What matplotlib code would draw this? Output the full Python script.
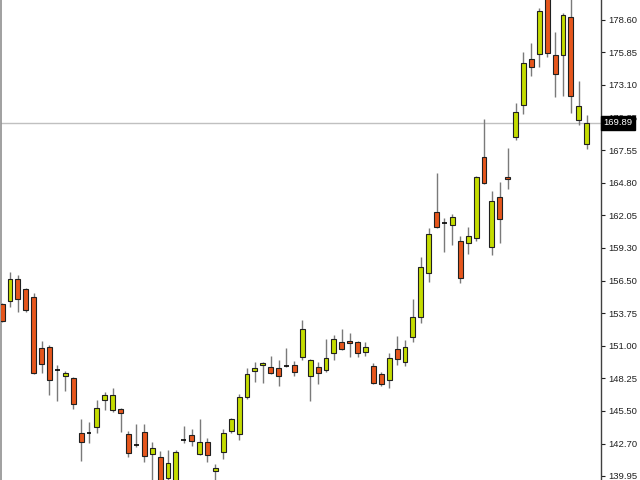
import numpy as np
import matplotlib
matplotlib.use('Agg')
import matplotlib.pyplot as plt
import matplotlib.transforms as mtransforms

# daily candles, oldest first (first one is cut by the left edge)
opens = [154.53, 154.78, 156.65, 155.80, 155.12, 150.80, 150.88, 148.94, 148.42, 148.26,
         143.59, 143.59, 144.10, 146.39, 145.54, 145.63, 143.51, 142.58, 143.68, 141.81,
         141.56, 139.78, 139.10, 143.00, 143.42, 141.81, 142.83, 140.37, 141.98, 143.76,
         143.51, 146.65, 148.85, 149.36, 149.19, 149.11, 149.27, 149.36, 150.04, 148.42,
         149.19, 148.94, 150.38, 151.31, 151.39, 151.31, 150.46, 149.27, 148.59, 148.09,
         150.71, 149.61, 151.73, 153.43, 157.15, 162.33, 161.39, 161.22, 159.87, 159.70,
         160.12, 166.99, 159.36, 163.60, 165.29, 168.68, 171.40, 175.30, 175.72, 180.72,
         175.63, 175.63, 178.85, 170.12, 168.09]
highs = [154.61, 157.24, 156.99, 155.89, 155.46, 151.39, 151.05, 149.36, 148.85, 148.34,
         144.78, 144.53, 146.39, 147.07, 147.41, 145.71, 143.76, 144.36, 144.36, 142.83,
         142.07, 142.15, 142.15, 144.19, 143.93, 144.78, 143.17, 140.97, 143.93, 144.87,
         146.90, 149.11, 149.61, 149.58, 150.12, 149.78, 150.80, 149.70, 153.17, 149.87,
         149.61, 151.56, 151.90, 152.41, 152.07, 151.39, 151.31, 149.53, 148.77, 150.38,
         151.82, 151.48, 154.95, 158.51, 160.97, 165.63, 161.82, 162.16, 160.29, 161.05,
         165.38, 170.21, 164.11, 164.87, 167.75, 171.56, 175.89, 176.65, 179.62, 181.14,
         177.58, 179.19, 180.97, 173.43, 170.55]
lows = [153.00, 154.27, 153.85, 153.85, 148.59, 148.68, 146.82, 146.31, 147.15, 145.63,
        141.22, 142.75, 143.59, 145.54, 145.37, 143.68, 141.56, 142.41, 141.13, 139.19,
        138.76, 138.76, 138.76, 142.75, 142.49, 141.73, 141.13, 139.19, 141.39, 143.59,
        143.00, 146.48, 147.92, 147.83, 148.59, 147.58, 149.19, 148.42, 149.78, 146.31,
        147.75, 148.77, 149.78, 150.63, 150.04, 150.04, 150.12, 147.75, 147.58, 147.41,
        149.36, 149.27, 151.31, 152.92, 156.39, 160.97, 158.94, 159.53, 156.31, 158.77,
        159.87, 164.70, 158.68, 159.70, 164.28, 168.43, 170.63, 173.85, 174.62, 175.46,
        172.07, 172.16, 170.72, 169.70, 167.67]
closes = [153.09, 156.65, 154.95, 154.02, 148.68, 149.44, 148.09, 148.94, 148.68, 146.05,
          142.83, 143.59, 145.71, 146.82, 146.82, 145.29, 141.90, 142.58, 141.64, 142.32,
          139.44, 141.05, 141.98, 143.00, 142.92, 142.83, 141.73, 140.63, 143.59, 144.78,
          146.65, 148.59, 149.11, 149.53, 148.68, 148.42, 149.27, 148.77, 152.41, 149.78,
          148.68, 149.95, 151.56, 150.71, 151.23, 150.38, 150.88, 147.83, 147.75, 149.95,
          149.87, 150.88, 153.43, 157.66, 160.46, 161.05, 161.39, 161.90, 156.73, 160.29,
          165.29, 164.78, 163.26, 161.73, 165.12, 170.80, 174.96, 174.62, 179.36, 175.80,
          174.02, 179.02, 172.16, 171.31, 169.89]

tick_vals = [178.60, 175.85, 173.10, 170.35, 167.55, 164.80, 162.05, 159.30,
             156.50, 153.75, 151.00, 148.25, 145.50, 142.70, 139.95]
last_price = 169.89

bull_col = '#c4dc00'
bear_col = '#e6561c'

fig = plt.figure(figsize=(6.4, 4.8), dpi=100)
ax = fig.add_axes([0.002, 0.0, 0.9375, 1.0])

o = np.array(opens)
h = np.array(highs)
l = np.array(lows)
c = np.array(closes)
x = np.arange(len(o))
w = 0.62

# wicks
ax.vlines(x, l, h, color='#7a7a7a', lw=1.0, zorder=2)

# bodies
for xi, oi, ci in zip(x, o, c):
    if abs(oi - ci) < 0.02:
        ax.hlines(oi, xi - w / 2, xi + w / 2, color='black', lw=1.2, zorder=3)
        continue
    col = bull_col if ci > oi else bear_col
    ax.bar(xi, abs(ci - oi), bottom=min(oi, ci), width=w, color=col,
           edgecolor='#202020', linewidth=0.8, zorder=3)

# last price line
ax.axhline(last_price, color='#c0c0c0', lw=1.0, zorder=1)

ax.set_xlim(-0.1, 75.85)
ax.set_ylim(139.61, 180.295)

ax.yaxis.tick_right()
ax.set_yticks(tick_vals)
ax.set_yticklabels(['%.2f' % v for v in tick_vals])
ax.tick_params(axis='y', direction='out', length=3, width=0.8, pad=2,
               labelsize=6.8, colors='#202020')
for lab in ax.get_yticklabels():
    lab.set_family('Liberation Sans')
ax.set_xticks([])

for s in ['top', 'bottom']:
    ax.spines[s].set_visible(False)
ax.spines['left'].set_color('#909090')
ax.spines['left'].set_linewidth(1.2)
ax.spines['right'].set_color('#404040')
ax.spines['right'].set_linewidth(1.0)

# price tag on the scale
trans = mtransforms.blended_transform_factory(ax.transAxes, ax.transData)
ax.text(1.004, last_price, '%.2f' % last_price, transform=trans, ha='left', va='center',
        fontsize=6.8, family='Liberation Sans', color='white', zorder=10, clip_on=False,
        bbox=dict(boxstyle='square,pad=0.25', fc='black', ec='black'))

fig.savefig('out.png', dpi=100)
